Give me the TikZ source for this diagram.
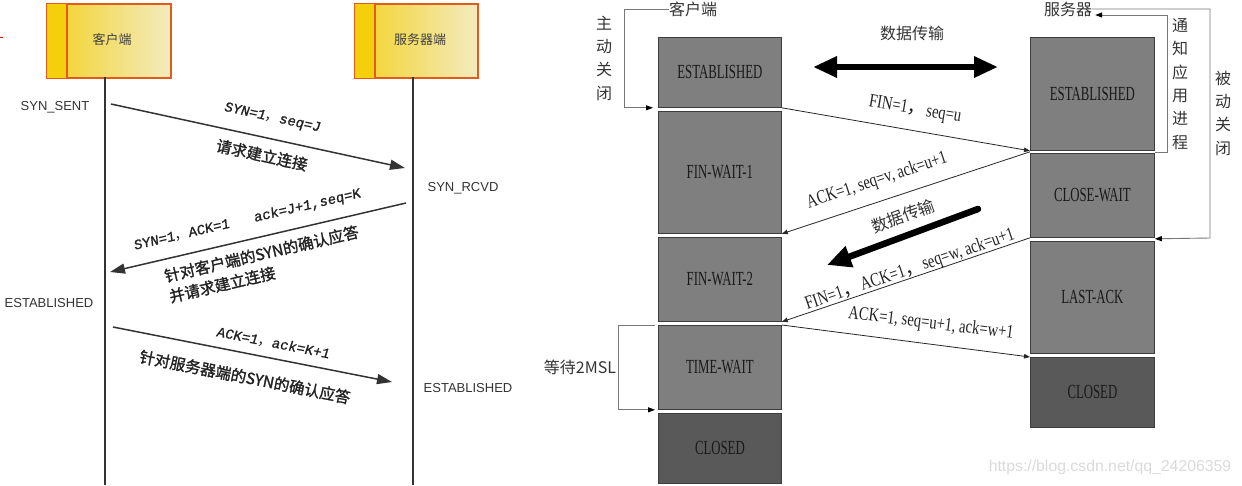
\documentclass[tikz,border=0pt]{standalone}
\usepackage{fontspec}
\setmainfont{Liberation Serif}
\newfontfamily\cjk{Noto Sans CJK SC}
\newfontfamily\cjkb[FakeBold=1.5]{Noto Sans CJK SC}
\newfontfamily\arialf{Liberation Sans}
\newfontfamily\monof[FakeBold=1,FakeSlant=0.12]{Liberation Mono}
\newfontfamily\narrowf[FakeStretch=0.77]{Liberation Serif}
\newfontfamily\boxf[FakeStretch=0.64]{Liberation Serif}
\usetikzlibrary{arrows.meta,calc}
\definecolor{hdrborder}{HTML}{E35B1A}
\definecolor{hdrstrip}{HTML}{F4CF0B}
\definecolor{hdrleft}{HTML}{F3D225}
\definecolor{hdrright}{HTML}{F3EBBF}
\definecolor{stategray}{HTML}{7F7F7F}
\definecolor{closedgray}{HTML}{595959}
\definecolor{boxline}{HTML}{3C3C3C}
\definecolor{txt}{HTML}{222222}
\definecolor{lbl}{HTML}{333333}
\definecolor{brkline}{HTML}{777777}
\definecolor{wm}{HTML}{DADADA}
\newcommand{\fc}{{\cjk ，}}
\begin{document}
\begin{tikzpicture}[x=1pt,y=-1pt,
  hdr/.style={draw=hdrborder, line width=1.6pt, left color=hdrleft, right color=hdrright,
    minimum width=124pt, minimum height=74pt, inner sep=0pt, anchor=north west},
  hdrtext/.style={font=\cjk\fontsize{13}{15}\selectfont, text=black!75},
  statelbl/.style={font=\arialf\fontsize{13}{15}\selectfont, text=lbl},
  life/.style={draw=black!80, line width=1.5pt},
  msg/.style={draw=black!80, line width=1.5pt, -{Triangle[length=15pt,width=10pt]}},
  msglbl/.style={font=\monof\fontsize{14}{16}\selectfont, text=txt, inner sep=1pt},
  msgcjk/.style={font=\cjkb\fontsize{15.5}{21}\selectfont, text=txt, inner sep=1pt},
  state/.style={draw=boxline, line width=0.8pt, fill=stategray, minimum width=123pt,
    anchor=north west, inner sep=0pt, font=\boxf\fontsize{20}{20}\selectfont, text=black!90},
  closedst/.style={state, fill=closedgray},
  thinmsg/.style={draw=black!85, line width=0.8pt, -{Triangle[length=6pt,width=4.5pt]}},
  thinlbl/.style={font=\narrowf\fontsize{19}{20}\selectfont, text=txt, inner sep=1pt},
  rcjk/.style={font=\cjk\fontsize{16}{18}\selectfont, text=lbl, inner sep=0pt},
  vcjk/.style={font=\cjk\fontsize{16}{23.3}\selectfont, text=lbl, align=center, inner sep=0pt},
  brk/.style={draw=brkline, line width=0.9pt},
  brka/.style={brk, -{Triangle[length=7pt,width=5pt,color=black]}},
  bigarrow/.style={draw=black, line width=6pt, {Triangle[length=24pt,width=20pt]}-{Triangle[length=24pt,width=20pt]}},
  diagarrow/.style={draw=black, line width=6.5pt, line cap=round, -{Triangle[length=24pt,width=21pt]}}
]
\useasboundingbox (0,0) rectangle (1242,485);
\draw[red, line width=1pt] (0,37) -- (3,37);

% ---------- left: three-way handshake ----------
\node[hdr] (cbox) at (46,3) {};
\fill[hdrstrip] ($(cbox.north west)+(0.8,0.8)$) rectangle ($(cbox.south west)+(21,-0.8)$);
\draw[hdrborder, line width=1.6pt] ($(cbox.north west)+(21,0)$) -- ($(cbox.south west)+(21,0)$);
\node[hdrtext] (ctext) at (112,40) {客户端};

\node[hdr, minimum width=123pt] (sbox) at (354,3) {};
\fill[hdrstrip] ($(sbox.north west)+(0.8,0.8)$) rectangle ($(sbox.south west)+(21,-0.8)$);
\draw[hdrborder, line width=1.6pt] ($(sbox.north west)+(21,0)$) -- ($(sbox.south west)+(21,0)$);
\node[hdrtext] (stext) at (420,40) {服务器端};

\coordinate (cltop) at (105,77);
\coordinate (clbot) at (105,485);
\coordinate (sltop) at (413,77);
\coordinate (slbot) at (413,485);
\draw[life] (cltop) -- (clbot);
\draw[life] (sltop) -- (slbot);

\node[statelbl] (synsent) at (55,107) {SYN\_SENT};
\node[statelbl] (synrcvd) at (463,188) {SYN\_RCVD};
\node[statelbl] (cestl) at (49,303) {ESTABLISHED};
\node[statelbl] (sestl) at (468,388) {ESTABLISHED};

\coordinate (a1s) at (111,104);
\coordinate (a1e) at (405,168);
\coordinate (a2s) at (406,203);
\coordinate (a2e) at (110,272);
\coordinate (a3s) at (113,327);
\coordinate (a3e) at (392,382);
\draw[msg] (a1s) -- (a1e);
\draw[msg] (a2s) -- (a2e);
\draw[msg] (a3s) -- (a3e);

\node[msglbl, rotate=-12.3] (l1) at (272,118) {SYN=1\fc seq=J};
\node[msgcjk, rotate=-12.3] (l1c) at (262,155) {请求建立连接};
\node[msglbl, rotate=13.1] (l2) at (247,220) {SYN=1\fc ACK=1\ \ \ ack=J+1,seq=K};
\node[msgcjk, rotate=13.1, align=left] (l2c) at (264,264) {针对客户端的SYN的确认应答\\并请求建立连接};
\node[msglbl, rotate=-11.2] (l3) at (273,343) {ACK=1\fc ack=K+1};
\node[msgcjk, rotate=-11.2] (l3c) at (245,377) {针对服务器端的SYN的确认应答};

% ---------- right: four-way close ----------
\node[state, minimum height=70pt] (cest) at (658,37) {ESTABLISHED};
\node[state, minimum height=122pt] (fw1) at (658,111) {FIN-WAIT-1};
\node[state, minimum height=84pt] (fw2) at (658,237) {FIN-WAIT-2};
\node[state, minimum height=84pt] (tw) at (658,325) {TIME-WAIT};
\node[closedst, minimum height=70pt] (cclosed) at (658,413) {CLOSED};

\node[state, minimum width=124pt, minimum height=113pt] (sest) at (1030,37) {ESTABLISHED};
\node[state, minimum width=124pt, minimum height=84pt] (cw) at (1030,153) {CLOSE-WAIT};
\node[state, minimum width=124pt, minimum height=112pt] (lack) at (1030,241) {LAST-ACK};
\node[closedst, minimum width=124pt, minimum height=70pt] (sclosed) at (1030,357) {CLOSED};

\node[rcjk] (clab) at (693,9) {客户端};
\node[rcjk] (slab) at (1068,9) {服务器};
\node[vcjk] (zdgb) at (604,58) {主\\动\\关\\闭};
\node[vcjk] (tzyy) at (1180,84) {通\\知\\应\\用\\进\\程};
\node[vcjk] (bdgb) at (1223,113) {被\\动\\关\\闭};
\node[rcjk] (wait) at (580,367) {等待2MSL};

\draw[brka] (clab.west) -| ($(cest.south west)+(-34,0)$) -- ($(cest.south west)+(-5,0)$);
\draw[brka] ($(sest.south east)+(0,1.5)$) -| (1167,15) -- ($(slab.east)+(3,6)$);
\draw[brka] (slab.east) -| (1210,238) -- ($(cw.south east)+(0,1)$);
\draw[brka] ($(tw.north west)+(-3,0)$) -| ($(tw.south west)+(-40,0)$) -- ($(tw.south west)+(-3,0)$);

\node[rcjk] (dt1) at (912,33) {数据传输};
\coordinate (da1) at (813,67);
\coordinate (da2) at (998,67);
\draw[bigarrow] (da1) -- (da2);

\draw[thinmsg] (cest.south east) -- (sest.south west);
\draw[thinmsg] ($(sest.south west)+(0,1)$) -- (fw1.south east);
\draw[thinmsg] (cw.south west) -- (fw2.south east);
\draw[thinmsg] (tw.north east) -- (sclosed.north west);

\node[thinlbl, rotate=-9.65] (m1) at (915,110) {FIN=1\fc seq=u};
\node[thinlbl, rotate=18.2] (m2) at (877,181) {ACK=1, seq=v, ack=u+1};
\node[rcjk, rotate=20, font=\cjk\fontsize{16.5}{18}\selectfont] (dt2) at (903,216) {数据传输};
\coordinate (db1) at (978,209);
\coordinate (db2) at (827,265);
\draw[diagarrow] (db1) -- (db2);
\node[thinlbl, rotate=18.8] (m3) at (910,270) {FIN=1\fc ACK=1\fc seq=w, ack=u+1};
\node[thinlbl, rotate=-7.1] (m4) at (931,324) {ACK=1, seq=u+1, ack=w+1};

\node[font=\arialf\fontsize{15.8}{18}\selectfont, text=wm] (wmk) at (1110,467) {https://blog.csdn.net/qq\_24206359};
\end{tikzpicture}
\end{document}
